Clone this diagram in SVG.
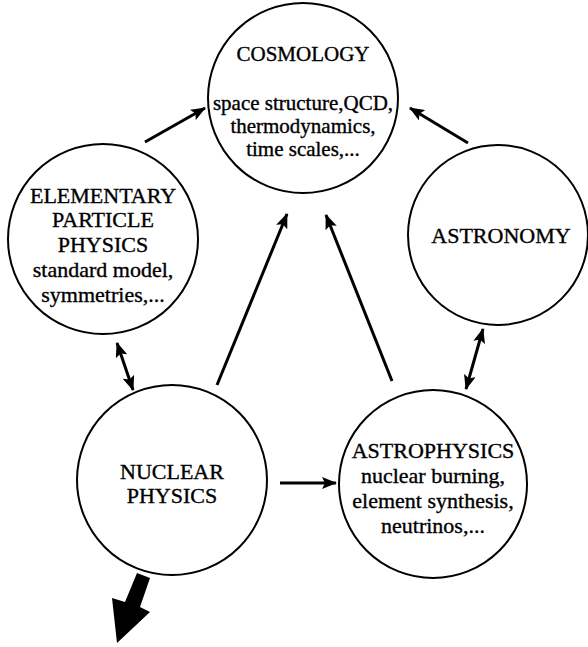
<svg xmlns="http://www.w3.org/2000/svg" width="588" height="647" viewBox="0 0 588 647">
<style>
.node{fill:#fff;stroke:#000;stroke-width:2}
.t{font-family:"Liberation Serif","Times New Roman","DejaVu Serif",serif;font-size:22px;fill:#000;stroke:#000;stroke-width:0.35;text-anchor:middle}
.s{font-size:21px}
.c{fill:none;stroke:#000;stroke-width:3}
</style>
<defs>
<marker id="ah" markerUnits="userSpaceOnUse" markerWidth="16" markerHeight="12" refX="14" refY="6" orient="auto-start-reverse" viewBox="0 0 16 12">
<path d="M0,0 L15,6 L0,12 L3,6 z" fill="#000"/>
</marker>
</defs>
<rect width="588" height="647" fill="#fff"/>
<g id="cosmology" font-family="Liberation Serif, Times New Roman, serif">
<circle class="node" cx="303" cy="98" r="95"/>
<text class="t s" x="303" y="61">COSMOLOGY</text>
<text class="t s" x="303" y="110">space structure,QCD,</text>
<text class="t s" x="303" y="133">thermodynamics,</text>
<text class="t s" x="303" y="156">time scales,...</text>
</g>
<g id="elementary" font-family="Liberation Serif, Times New Roman, serif">
<circle class="node" cx="103" cy="239" r="95"/>
<text class="t" x="103" y="203">ELEMENTARY</text>
<text class="t" x="103" y="227">PARTICLE</text>
<text class="t" x="103" y="252">PHYSICS</text>
<text class="t" x="103" y="277">standard model,</text>
<text class="t" x="103" y="302">symmetries,...</text>
</g>
<g id="astronomy" font-family="Liberation Serif, Times New Roman, serif">
<circle class="node" cx="498" cy="235" r="90"/>
<text class="t" x="501" y="243">ASTRONOMY</text>
</g>
<g id="nuclear" font-family="Liberation Serif, Times New Roman, serif">
<circle class="node" cx="172" cy="480" r="95"/>
<text class="t" x="172" y="479">NUCLEAR</text>
<text class="t" x="172" y="503">PHYSICS</text>
</g>
<g id="astrophysics" font-family="Liberation Serif, Times New Roman, serif">
<circle class="node" cx="433" cy="484" r="94"/>
<text class="t" x="433" y="458">ASTROPHYSICS</text>
<text class="t" x="433" y="483">nuclear burning,</text>
<text class="t" x="433" y="508">element synthesis,</text>
<text class="t" x="433" y="533">neutrinos,...</text>
</g>
<g id="connectors">
<line class="c" x1="145" y1="142" x2="205" y2="108" marker-end="url(#ah)"/>
<line class="c" x1="468" y1="143" x2="410" y2="108" marker-end="url(#ah)"/>
<line class="c" x1="217" y1="385" x2="287" y2="214" marker-end="url(#ah)"/>
<line class="c" x1="392" y1="381" x2="326" y2="215" marker-end="url(#ah)"/>
<line class="c" x1="117" y1="343" x2="133" y2="390" marker-start="url(#ah)" marker-end="url(#ah)"/>
<line class="c" x1="483" y1="329" x2="466" y2="389" marker-start="url(#ah)" marker-end="url(#ah)"/>
<line class="c" x1="280" y1="483" x2="336" y2="483" marker-end="url(#ah)"/>
<polygon points="137,573 150,578 140,607 150,612 117,643 112,598 125,602" fill="#000"/>
</g>
</svg>
